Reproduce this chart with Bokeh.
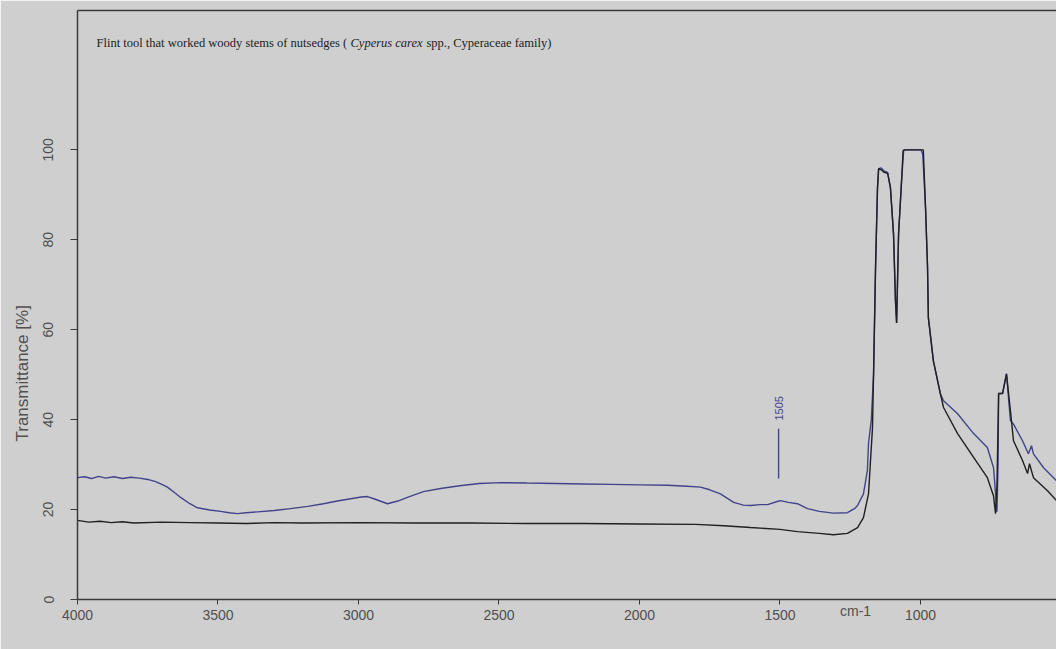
import math

from bokeh.embed import file_html
from bokeh.models import FixedTicker, Label, LinearAxis, Range1d, Title
from bokeh.plotting import figure
from bokeh.resources import INLINE

# ---- texts ---------------------------------------------------------------
title_plain = "Flint tool that worked woody stems of nutsedges ("
title_italic = "Cyperus carex"
title_tail = "spp., Cyperaceae  family)"
y_label = "Transmittance [%]"
x_unit = "cm-1"

x_ticks = [4000, 3500, 3000, 2500, 2000, 1500, 1000]
y_ticks = [0, 20, 40, 60, 80, 100]

# ---- spectra (wavenumber in cm-1, transmittance in %) -------------------
blue_wn = [4000, 3975, 3950, 3925, 3900, 3870, 3840, 3810, 3780, 3750, 3722, 3700,
           3680, 3655, 3633, 3600, 3573, 3530, 3491, 3460, 3431, 3400, 3359, 3300,
           3242, 3180, 3125, 3075, 3028, 2990, 2968, 2940, 2897, 2860, 2826, 2769,
           2708, 2640, 2570, 2495, 2400, 2300, 2200, 2100, 2000, 1900, 1830, 1783,
           1750, 1712, 1665, 1630, 1605, 1570, 1544, 1510, 1498, 1470, 1438, 1402,
           1360, 1310, 1260, 1235, 1224, 1203, 1189, 1185, 1175, 1167, 1160, 1153,
           1149, 1140, 1130, 1117, 1107, 1096, 1089, 1085, 1078, 1068, 1060, 1055,
           998, 992, 982, 975, 972, 954, 929, 918, 868, 811, 762, 740, 728, 724,
           722, 708, 694, 680, 669, 637, 616, 605, 598, 562, 516]
blue_t = [27.1, 27.3, 26.9, 27.4, 27.0, 27.3, 26.9, 27.2, 27.0, 26.7, 26.2, 25.6,
          25.0, 23.8, 22.7, 21.3, 20.4, 19.9, 19.6, 19.3, 19.1, 19.3, 19.5, 19.8,
          20.2, 20.7, 21.3, 21.9, 22.4, 22.8, 22.9, 22.3, 21.3, 21.9, 22.7, 24.0,
          24.7, 25.3, 25.8, 26.0, 25.9, 25.8, 25.7, 25.6, 25.5, 25.4, 25.2, 25.0,
          24.4, 23.5, 21.6, 21.0, 20.9, 21.1, 21.1, 21.8, 22.0, 21.6, 21.3, 20.2,
          19.6, 19.2, 19.3, 20.2, 20.9, 23.5, 28.7, 34.7, 40.0, 50.2, 73.8, 91.6,
          95.8, 96.0, 95.3, 95.0, 91.6, 81.3, 66.4, 61.5, 81.3, 92.4, 99.8, 100.0,
          100.0, 99.0, 87.0, 74.0, 62.7, 53.0, 45.7, 44.2, 41.3, 36.9, 33.8, 29.3, 19.5, 30.0,
          45.8, 45.8, 50.2, 39.8, 39.0, 35.3, 32.4, 34.2, 32.4, 29.3, 26.4]

black_wn = [4000, 3960, 3920, 3880, 3840, 3800, 3700, 3600, 3500, 3400, 3300, 3200,
            3000, 2800, 2600, 2400, 2200, 2000, 1800, 1700, 1605, 1500, 1438, 1360,
            1310, 1260, 1224, 1203, 1185, 1171, 1167, 1160, 1153, 1149, 1140, 1130,
            1117, 1107, 1096, 1089, 1085, 1078, 1068, 1062, 1058, 990, 982, 975, 972,
            954, 929, 918, 868, 811, 762, 740, 733, 728, 722, 708, 694, 680, 669,
            637, 619, 612, 598, 548, 516]
black_t = [17.6, 17.2, 17.4, 17.1, 17.3, 17.0, 17.2, 17.1, 17.0, 16.9, 17.1, 17.0,
           17.1, 17.0, 17.0, 16.9, 16.9, 16.8, 16.7, 16.4, 16.0, 15.6, 15.1, 14.7,
           14.4, 14.7, 16.0, 18.2, 23.5, 38.0, 50.2, 73.8, 91.6, 95.8, 95.6, 95.0,
           94.8, 91.6, 81.3, 66.4, 61.5, 81.3, 92.4, 99.8, 100.0, 100.0, 87.0, 74.0, 62.7,
           53.0, 45.7, 42.7, 36.9, 31.6, 27.1, 23.0, 19.1, 25.0, 45.8, 45.8, 50.2,
           42.0, 35.3, 30.9, 28.0, 30.2, 27.1, 24.2, 22.0]

band_wn = 1505
band_label = "1505"
band_low, band_high = 26.9, 38.0

# where the unit text sits along the wavenumber axis
unit_pos = 1231

# ---- colours -------------------------------------------------------------
BG = "#cfcfcf"
AXIS = "#3a3a3a"
TICK_TEXT = "#505050"
BLUE = "#43438a"
BLACK = "#202020"
FONT = "Liberation Sans"

p = figure(width=1056, height=649, output_backend="svg", toolbar_location=None,
           x_range=Range1d(4000, 516), y_range=Range1d(0, 131),
           min_border_left=77, min_border_right=0, min_border_top=10,
           min_border_bottom=50)
p.background_fill_color = BG
p.border_fill_color = BG
p.outline_line_color = None
p.xgrid.visible = False
p.ygrid.visible = False

# bottom axis
xa = p.xaxis[0]
xa.ticker = FixedTicker(ticks=x_ticks)
xa.axis_line_color = AXIS
xa.axis_line_width = 1.5
xa.major_tick_line_color = AXIS
xa.major_tick_in = 0
xa.major_tick_out = 5
xa.minor_tick_line_color = None
xa.major_label_standoff = 5
xa.major_label_text_font = FONT
xa.major_label_text_font_size = "14px"
xa.major_label_text_color = TICK_TEXT

# unit text, lifted back onto the line of tick numbers
xu = LinearAxis(ticker=FixedTicker(ticks=[unit_pos]),
                axis_line_color=None, major_tick_line_color=None,
                minor_tick_line_color=None, major_tick_in=0, major_tick_out=0,
                major_label_standoff=-20, major_label_text_font=FONT,
                major_label_text_font_size="14px",
                major_label_text_color=TICK_TEXT,
                major_label_overrides={unit_pos: x_unit})
p.add_layout(xu, "below")

# left axis
ya = p.yaxis[0]
ya.ticker = FixedTicker(ticks=y_ticks)
ya.axis_line_color = AXIS
ya.axis_line_width = 1.5
ya.major_tick_line_color = AXIS
ya.major_tick_in = 0
ya.major_tick_out = 7
ya.minor_tick_line_color = None
ya.major_label_standoff = 17
ya.major_label_orientation = "vertical"
ya.major_label_text_font = FONT
ya.major_label_text_font_size = "14px"
ya.major_label_text_color = TICK_TEXT

p.add_layout(Title(text=y_label, align="left", offset=158, standoff=18,
                   text_font=FONT, text_font_size="17px",
                   text_font_style="normal", text_color=TICK_TEXT), "left")

# top frame line
top = LinearAxis(ticker=FixedTicker(ticks=[]), axis_line_color=AXIS,
                 axis_line_width=1.5, major_tick_line_color=None,
                 minor_tick_line_color=None, major_label_standoff=0,
                 major_tick_out=0)
p.add_layout(top, "above")

# spectra
p.line(blue_wn, blue_t, line_color=BLUE, line_width=1.4)
p.line(black_wn, black_t, line_color=BLACK, line_width=1.4)

# band marker
p.segment(x0=[band_wn], y0=[band_low], x1=[band_wn], y1=[band_high],
          line_color=BLUE, line_width=1.4)
p.add_layout(Label(x=band_wn, y=band_high + 1.8, text=band_label, angle=math.pi / 2,
                   text_align="left", text_baseline="middle",
                   text_font=FONT, text_font_size="11px", text_color=BLUE))

# title pieces (serif, species name in italics)
title_y = 557
p.add_layout(Label(x=19, y=title_y, x_units="screen", y_units="screen",
                   text=title_plain, text_font="Liberation Serif",
                   text_font_size="12.5px", text_color="#222222",
                   text_baseline="middle"))
p.add_layout(Label(x=273, y=title_y, x_units="screen", y_units="screen",
                   text=title_italic, text_font="Liberation Serif",
                   text_font_style="italic", text_font_size="12.5px",
                   text_color="#222222", text_baseline="middle"))
p.add_layout(Label(x=349, y=title_y, x_units="screen", y_units="screen",
                   text=title_tail, text_font="Liberation Serif",
                   text_font_size="12.5px", text_color="#222222",
                   text_baseline="middle"))

open("out.html", "w").write(file_html(p, INLINE))
